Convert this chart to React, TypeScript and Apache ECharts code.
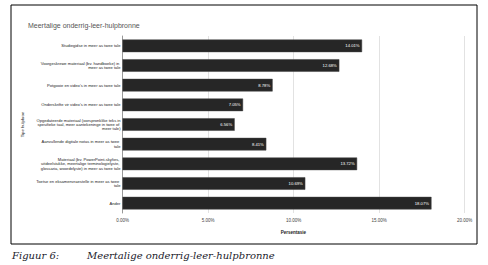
import React, { useEffect, useRef } from "react";
import * as echarts from "echarts";

const categories = [
  "Studiegidse in meer as twee tale",
  "Voorgeskrewe materiaal (bv. handboeke) in meer as twee tale",
  "Potgooie en video's in meer as twee tale",
  "Onderskrifte vir video's in meer as twee tale",
  "Opgedateerde materiaal (oorspronklike teks in spesifieke taal, meer aantekeninge in twee of meer tale)",
  "Aanvullende digitale notas in meer as twee tale",
  "Materiaal (bv. PowerPoint-skyfies, uitdeelstukke, meertalige terminologielyste, glossaria, woordelyste) in meer as twee tale",
  "Toetse en eksamenvraestelle in meer as twee tale",
  "Ander",
];
const values = [14.01, 12.68, 8.78, 7.05, 6.56, 8.41, 13.72, 10.69, 18.07];
const xTicks = [0, 5, 10, 15, 20];

const FONT = "'Liberation Sans', Arial, sans-serif";
const CAPTION_FONT = "italic 10px 'DejaVu Serif', 'Liberation Serif', serif";

export default function App() {
  const ref = useRef<HTMLDivElement>(null);
  useEffect(() => {
    if (!ref.current) return;
    const chart = echarts.init(ref.current, null, { renderer: "svg" });
    chart.setOption({
      animation: false,
      backgroundColor: "#ffffff",
      title: {
        text: "Meertalige onderrig-leer-hulpbronne",
        left: 23,
        top: 17,
        textStyle: { fontSize: 7, color: "#555", fontWeight: "normal", fontFamily: FONT },
      },
      grid: { left: 122.5, right: 488 - 464.5, top: 36, bottom: 265 - 213 },
      xAxis: {
        type: "value",
        min: xTicks[0],
        max: xTicks[xTicks.length - 1],
        interval: 5,
        name: "Persentasie",
        nameLocation: "middle",
        nameGap: 17,
        nameTextStyle: { fontSize: 4.5, color: "#222", fontWeight: "bold", fontFamily: FONT },
        axisLine: { show: false },
        axisTick: { show: false },
        axisLabel: {
          fontSize: 4.5,
          color: "#444",
          margin: 5,
          fontFamily: FONT,
          formatter: (v: number) => v.toFixed(2) + "%",
        },
        splitLine: { show: true, lineStyle: { color: "#e2e2e2", width: 1 } },
      },
      yAxis: {
        type: "category",
        data: categories,
        inverse: true,
        name: "Tipe hulpbron",
        nameLocation: "middle",
        nameGap: 97,
        nameRotate: 90,
        nameTextStyle: { fontSize: 4.2, color: "#222", fontFamily: FONT },
        axisLine: { show: true, lineStyle: { color: "#999", width: 1 } },
        axisTick: { show: false },
        axisLabel: {
          fontSize: 4.1,
          lineHeight: 4.4,
          color: "#222",
          margin: 2,
          width: 85,
          overflow: "break",
          align: "right",
          fontFamily: FONT,
        },
      },
      series: [
        {
          type: "bar",
          data: values,
          barWidth: "64%",
          itemStyle: { color: "#262626", borderColor: "#444", borderWidth: 0.5 },
          label: {
            show: true,
            position: "insideRight",
            distance: 2.5,
            color: "#fff",
            fontSize: 4.2,
            fontFamily: FONT,
            formatter: (p: any) => p.value.toFixed(2) + "%",
          },
        },
      ],
      graphic: [
        {
          type: "rect",
          shape: { x: 11, y: 5, width: 466, height: 239 },
          style: { fill: "none", stroke: "#000", lineWidth: 1 },
          silent: true,
        },
        {
          type: "text",
          x: 12,
          y: 255,
          style: {
            text: "Figuur 6:",
            font: CAPTION_FONT,
            fill: "#1b1b2b",
            verticalAlign: "middle",
          },
        },
        {
          type: "text",
          x: 87,
          y: 255,
          style: {
            text: "Meertalige onderrig-leer-hulpbronne",
            font: CAPTION_FONT,
            fill: "#1b1b2b",
            verticalAlign: "middle",
          },
        },
      ],
    });
    return () => chart.dispose();
  }, []);
  return (
    <div
      ref={ref}
      style={{ position: "fixed", left: 0, top: 0, width: 488, height: 265, background: "#fff" }}
    />
  );
}
